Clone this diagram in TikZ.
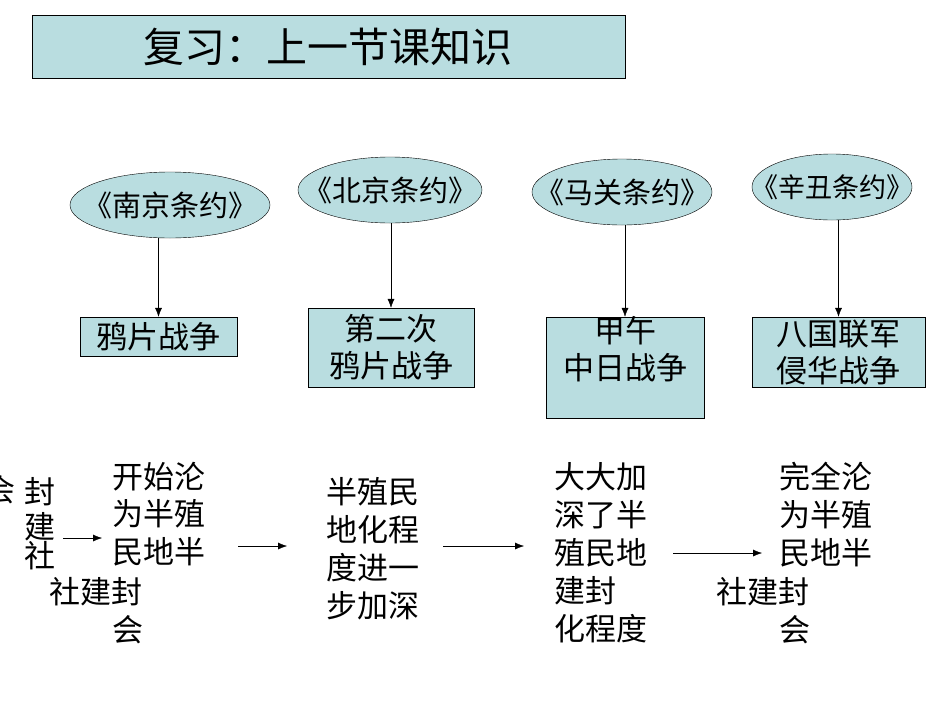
\documentclass[tikz,border=0pt]{standalone}
\usepackage{fontspec}
\setmainfont{Noto Sans CJK SC}
\usetikzlibrary{shapes.geometric,arrows.meta}
\definecolor{fillc}{HTML}{B9DDE0}
\begin{document}
\begin{tikzpicture}[x=1pt,y=-1pt,
 t/.style={inner sep=0pt,anchor=west,font=\fontsize{31}{31}\selectfont},
 ell/.style={ellipse,draw,fill=fillc,inner sep=0pt},
 et/.style={inner sep=0pt,font=\fontsize{29}{29}\selectfont},
 box/.style={draw,fill=fillc,inner sep=0pt},
 arr/.style={-{Latex[length=9pt,width=7pt]},thin}]
\useasboundingbox (0,0) rectangle (950,713);
\fill[white] (0,0) rectangle (950,713);
\node[box,minimum width=593pt,minimum height=63pt] (title) at (328.5,46.5) {};
\node[inner sep=0pt,font=\fontsize{41}{41}\selectfont] (tt) at (328,47) {复习：上一节课知识};
\node[ell,minimum width=200pt,minimum height=66pt] (e1) at (170,205) {};
\node[ell,minimum width=184pt,minimum height=66pt] (e2) at (390,190) {};
\node[ell,minimum width=180pt,minimum height=66pt] (e3) at (622,192) {};
\node[ell,minimum width=160pt,minimum height=66pt] (e4) at (832,187) {};
\node[et] (e1t) at (e1) {《南京条约》};
\node[et] (e2t) at (e2) {《北京条约》};
\node[et] (e3t) at (e3) {《马关条约》};
\node[et,font=\fontsize{27}{27}\selectfont] (e4t) at (e4) {《辛丑条约》};
\node[box,minimum width=157pt,minimum height=39pt,font=\fontsize{31}{31}\selectfont] (b1) at (158.5,336.5) {鸦片战争};
\node[box,minimum width=166pt,minimum height=79pt,align=center,font=\fontsize{31}{37}\selectfont] (b2) at (391,347.5) {第二次\\鸦片战争};
\node[box,minimum width=158pt,minimum height=101pt] (b3) at (625,367.5) {};
\node[inner sep=0pt,align=center,font=\fontsize{31}{37}\selectfont] (b3t) at (625,349) {甲午\\中日战争};
\node[box,minimum width=173pt,minimum height=70pt,align=center,font=\fontsize{31}{37}\selectfont] (b4) at (838.5,352) {八国联军\\侵华战争};
\draw[arr] (e1.south -| b1.north) -- (b1.north);
\draw[arr] (e2.south -| b2.north) -- (b2.north);
\draw[arr] (e3.south -| b3.north) -- (b3.north);
\draw[arr] (e4.south -| b4.north) -- (b4.north);
% bottom texts
\node[t] (c0) at (-16,490) {会};
\node[t] (c1) at (24,492) {封};
\node[t] (c2) at (24,527) {建};
\node[t] (c3) at (24,556) {社};
\node[t] (a1) at (112,477) {开始沦};
\node[t] (a2) at (112,514) {为半殖};
\node[t] (a3) at (112,552) {民地半};
\node[t] (a4) at (49,592) {社建封};
\node[t] (a5) at (112,630) {会};
\node[t] (p1) at (326,492) {半殖民};
\node[t] (p2) at (326,530) {地化程};
\node[t] (p3) at (326,568) {度进一};
\node[t] (p4) at (326,606) {步加深};
\node[t] (q1) at (554,477) {大大加};
\node[t] (q2) at (554,515) {深了半};
\node[t] (q3) at (554,553) {殖民地};
\node[t] (q4) at (554,591) {建封};
\node[t] (q5) at (554,629) {化程度};
\node[t] (r1) at (779,477) {完全沦};
\node[t] (r2) at (779,515) {为半殖};
\node[t] (r3) at (779,553) {民地半};
\node[t] (r4) at (716,592) {社建封};
\node[t] (r5) at (779,630) {会};
\coordinate (s1) at (63,538); \coordinate (t1) at (102,538);
\coordinate (s2) at (238,546); \coordinate (t2) at (287,546);
\coordinate (s3) at (443,546); \coordinate (t3) at (524,546);
\coordinate (s4) at (673,553); \coordinate (t4) at (762,553);
\draw[arr] (s1) -- (t1);
\draw[arr] (s2) -- (t2);
\draw[arr] (s3) -- (t3);
\draw[arr] (s4) -- (t4);
\end{tikzpicture}
\end{document}
